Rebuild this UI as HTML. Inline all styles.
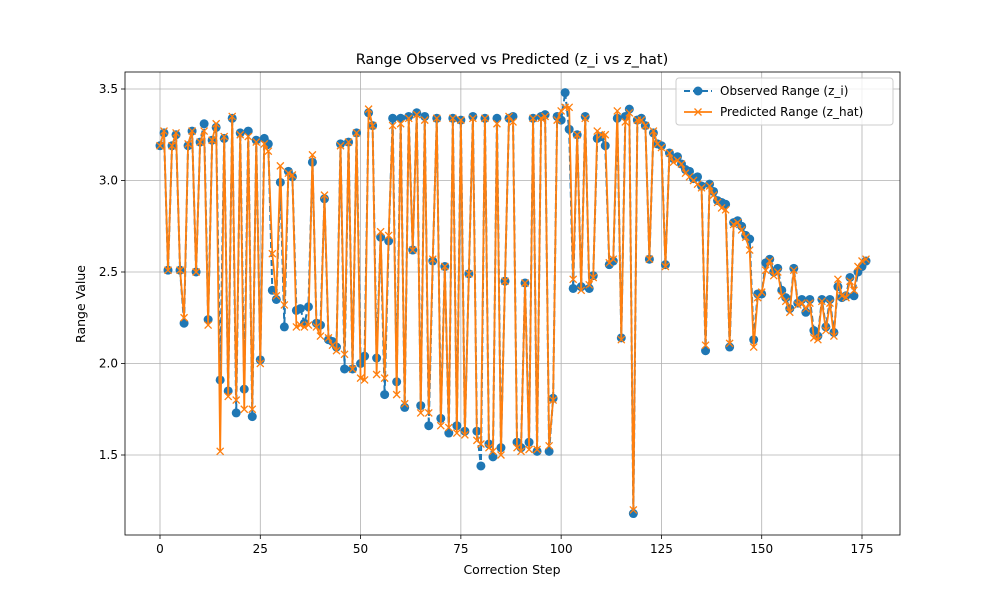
<!DOCTYPE html>
<html><head><meta charset="utf-8"><style>
body{margin:0;background:#fff;font-family:"Liberation Sans","DejaVu Sans",sans-serif;}
svg text{font-family:"DejaVu Sans","Liberation Sans",sans-serif;}
</style></head><body>
<svg id="c" width="1000" height="600"></svg>
<script>
const steps=[];for(let i=0;i<=176;i++)steps.push(i);
const observed=[3.19,3.26,2.51,3.19,3.25,2.51,2.22,3.19,3.27,2.50,3.21,3.31,2.24,3.22,3.29,1.91,3.23,1.85,3.34,1.73,3.26,1.86,3.27,1.71,3.22,2.02,3.23,3.20,2.40,2.35,2.99,2.20,3.05,3.02,2.29,2.30,2.22,2.31,3.10,2.22,2.21,2.90,2.13,2.12,2.09,3.20,1.97,3.21,1.97,3.26,2.00,2.04,3.37,3.30,2.03,2.69,1.83,2.67,3.34,1.90,3.34,1.76,3.35,2.62,3.37,1.77,3.35,1.66,2.56,3.34,1.70,2.53,1.62,3.34,1.66,3.33,1.63,2.49,3.35,1.63,1.44,3.34,1.56,1.49,3.34,1.54,2.45,3.34,3.35,1.57,1.54,2.44,1.57,3.34,1.52,3.35,3.36,1.52,1.81,3.35,3.33,3.48,3.28,2.41,3.25,2.42,3.35,2.41,2.48,3.23,3.24,3.19,2.54,2.56,3.34,2.14,3.35,3.39,1.18,3.33,3.34,3.30,2.57,3.26,3.20,3.19,2.54,3.15,3.12,3.13,3.09,3.06,3.05,3.01,3.02,2.97,2.07,2.98,2.94,2.89,2.88,2.87,2.09,2.77,2.78,2.75,2.70,2.68,2.13,2.38,2.38,2.55,2.57,2.50,2.52,2.40,2.36,2.30,2.52,2.33,2.35,2.28,2.35,2.18,2.15,2.35,2.20,2.35,2.17,2.42,2.36,2.37,2.47,2.37,2.50,2.53,2.56];
const predicted=[3.19,3.27,2.51,3.19,3.26,2.51,2.25,3.20,3.27,2.50,3.21,3.27,2.21,3.22,3.31,1.52,3.24,1.82,3.35,1.80,3.25,1.75,3.24,1.75,3.21,2.00,3.20,3.16,2.60,2.37,3.08,2.32,3.04,3.03,2.20,2.21,2.20,2.21,3.14,2.20,2.15,2.92,2.14,2.10,2.07,3.19,2.05,3.21,1.97,3.26,1.92,1.91,3.39,3.30,1.94,2.72,1.92,2.70,3.30,1.83,3.31,1.78,3.34,2.62,3.36,1.73,3.33,1.73,2.57,3.34,1.66,2.53,1.65,3.34,1.62,3.33,1.61,2.49,3.34,1.58,1.56,3.34,1.54,1.52,3.31,1.50,2.45,3.35,3.32,1.54,1.52,2.44,1.53,3.34,1.53,3.34,3.35,1.55,1.80,3.33,3.38,3.40,3.40,2.46,3.25,2.40,3.34,2.43,2.47,3.27,3.25,3.25,2.55,2.57,3.38,2.13,3.32,3.37,1.20,3.33,3.33,3.30,2.57,3.27,3.20,3.18,2.53,3.15,3.10,3.11,3.09,3.04,3.02,3.00,2.98,2.96,2.10,2.97,2.92,2.88,2.85,2.84,2.11,2.76,2.77,2.73,2.69,2.62,2.09,2.36,2.39,2.51,2.56,2.48,2.50,2.37,2.34,2.28,2.51,2.32,2.33,2.30,2.33,2.14,2.13,2.34,2.18,2.33,2.15,2.46,2.37,2.36,2.45,2.40,2.53,2.56,2.57];
const xTicks=[0,25,50,75,100,125,150,175];
const yTicks=[1.5,2.0,2.5,3.0,3.5];
const L=125,R=900,T=72,B=535;
const xs=v=>160+v*(862-160)/175;
const ys=v=>455-(v-1.5)*(455-89)/2;
const svg=document.getElementById('c');const NS='http://www.w3.org/2000/svg';
function mk(t,a,p){const e=document.createElementNS(NS,t);for(const k in a)e.setAttribute(k,a[k]);(p||svg).appendChild(e);return e;}
mk('rect',{x:0,y:0,width:1000,height:600,fill:'#fff'});
const grid=mk('g',{});


xTicks.forEach(t=>{const x=xs(t);mk('line',{x1:x,x2:x,y1:T,y2:B,stroke:'#b0b0b0','stroke-width':0.8},grid);
mk('line',{x1:x,x2:x,y1:B,y2:B+4,stroke:'#000','stroke-width':0.8});
const tx=mk('text',{x:x,y:B+18,'text-anchor':'middle','font-size':12});tx.textContent=t;

});
yTicks.forEach(t=>{const y=ys(t);mk('line',{x1:L,x2:R,y1:y,y2:y,stroke:'#b0b0b0','stroke-width':0.8},grid);
mk('line',{x1:L-4,x2:L,y1:y,y2:y,stroke:'#000','stroke-width':0.8});
const tx=mk('text',{x:L-7,y:y+4,'text-anchor':'end','font-size':12});tx.textContent=t.toFixed(1);

});
const op=observed.map((v,i)=>xs(steps[i])+','+ys(v)).join(' ');
const pp=predicted.map((v,i)=>xs(steps[i])+','+ys(v)).join(' ');
const ol=mk('polyline',{points:op,fill:'none',stroke:'#1f77b4','stroke-width':2,'stroke-dasharray':'6,3'});


observed.forEach((v,i)=>{const c=mk('circle',{cx:xs(steps[i]),cy:ys(v),r:4.5,fill:'#1f77b4'});

});
const pl=mk('polyline',{points:pp,fill:'none',stroke:'#ff7f0e','stroke-width':1.8});


predicted.forEach((v,i)=>{const x=xs(steps[i]),y=ys(v),s=3.5;
const p=mk('path',{d:`M${x-s},${y-s}L${x+s},${y+s}M${x-s},${y+s}L${x+s},${y-s}`,stroke:'#ff7f0e','stroke-width':1.3});

});
mk('rect',{x:L,y:T,width:R-L,height:B-T,fill:'none',stroke:'#000','stroke-width':0.8});
const ti=mk('text',{x:512,y:64,'text-anchor':'middle','font-size':14.5});ti.textContent='Range Observed vs Predicted (z_i vs z_hat)';


const xl=mk('text',{x:512,y:574,'text-anchor':'middle','font-size':12.5});xl.textContent='Correction Step';


const yl=mk('text',{x:0,y:0,'text-anchor':'middle','font-size':12.5,transform:'translate(85,304) rotate(-90)'});yl.textContent='Range Value';


const lg=mk('g',{});


mk('rect',{x:676,y:78,width:217,height:47,rx:3,fill:'#fff','fill-opacity':0.8,stroke:'#ccc'},lg);
mk('line',{x1:684,x2:712,y1:91,y2:91,stroke:'#1f77b4','stroke-width':2,'stroke-dasharray':'6,3'},lg);
mk('circle',{cx:698,cy:91,r:4.5,fill:'#1f77b4'},lg);
const t1=mk('text',{x:720,y:95,'font-size':12},lg);t1.textContent='Observed Range (z_i)';


mk('line',{x1:684,x2:712,y1:112,y2:112,stroke:'#ff7f0e','stroke-width':1.8},lg);
mk('path',{d:'M694.5,108.5L701.5,115.5M694.5,115.5L701.5,108.5',stroke:'#ff7f0e','stroke-width':1.3},lg);
const t2=mk('text',{x:720,y:116,'font-size':12},lg);t2.textContent='Predicted Range (z_hat)';


</script>
</body></html>
